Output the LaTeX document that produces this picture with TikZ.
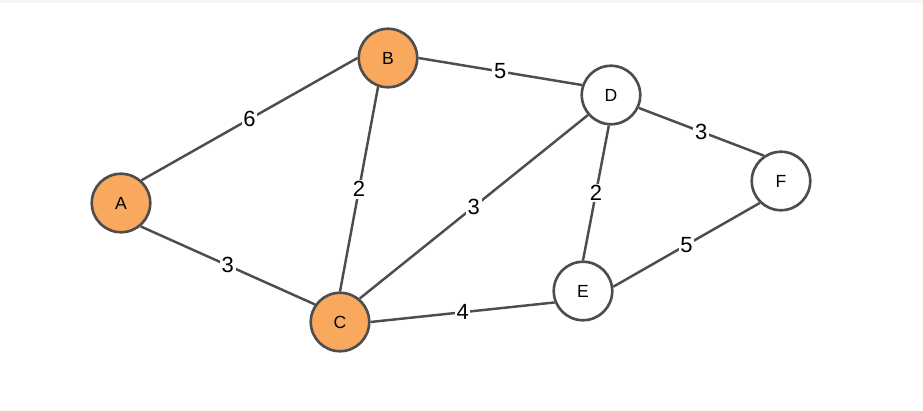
\documentclass[tikz,border=0pt]{standalone}
\usepackage{fontspec}
\setmainfont{Liberation Sans}
\definecolor{pickfill}{HTML}{F8A95E}
\definecolor{linegray}{HTML}{4D4D4D}
\begin{document}
\begin{tikzpicture}[x=0.02cm, y=-0.02cm,
  vtx/.style={circle, draw=linegray, line width=1.5pt, fill=white, minimum size=1.17cm, inner sep=0pt, font=\normalsize},
  picked/.style={vtx, fill=pickfill},
  edge/.style={draw=linegray, line width=1.4pt},
  wt/.style={fill=white, inner sep=1pt, font=\fontsize{12.5}{15}\selectfont}]
\useasboundingbox (0,0) rectangle (923,411);
\fill[black!4] (0,0) rectangle (923,3);
% vertices: name/x/y (pixel grid)
\foreach \n/\x/\y in {A/121/203,B/388/58,C/340/322}
  \node[picked] (\n) at (\x,\y) {\n};
\foreach \n/\x/\y in {D/611/95,E/583/291,F/781/181}
  \node[vtx] (\n) at (\x,\y) {\n};
% weighted edges: from.angle/to.angle/weight (border to border)
\foreach \a/\b/\w in {A.48/B.180/6,A.-50/C.145/3,B.-109/C.90/2,B.0/D.161/5,C.50/D.221/3,
    C.0/E.202/4,D.266/E.90/2,D.-25/F.124/3,E.8/F.226/5}
  \path[edge] (\a) -- node[wt] {\w} (\b);
\end{tikzpicture}
\end{document}
